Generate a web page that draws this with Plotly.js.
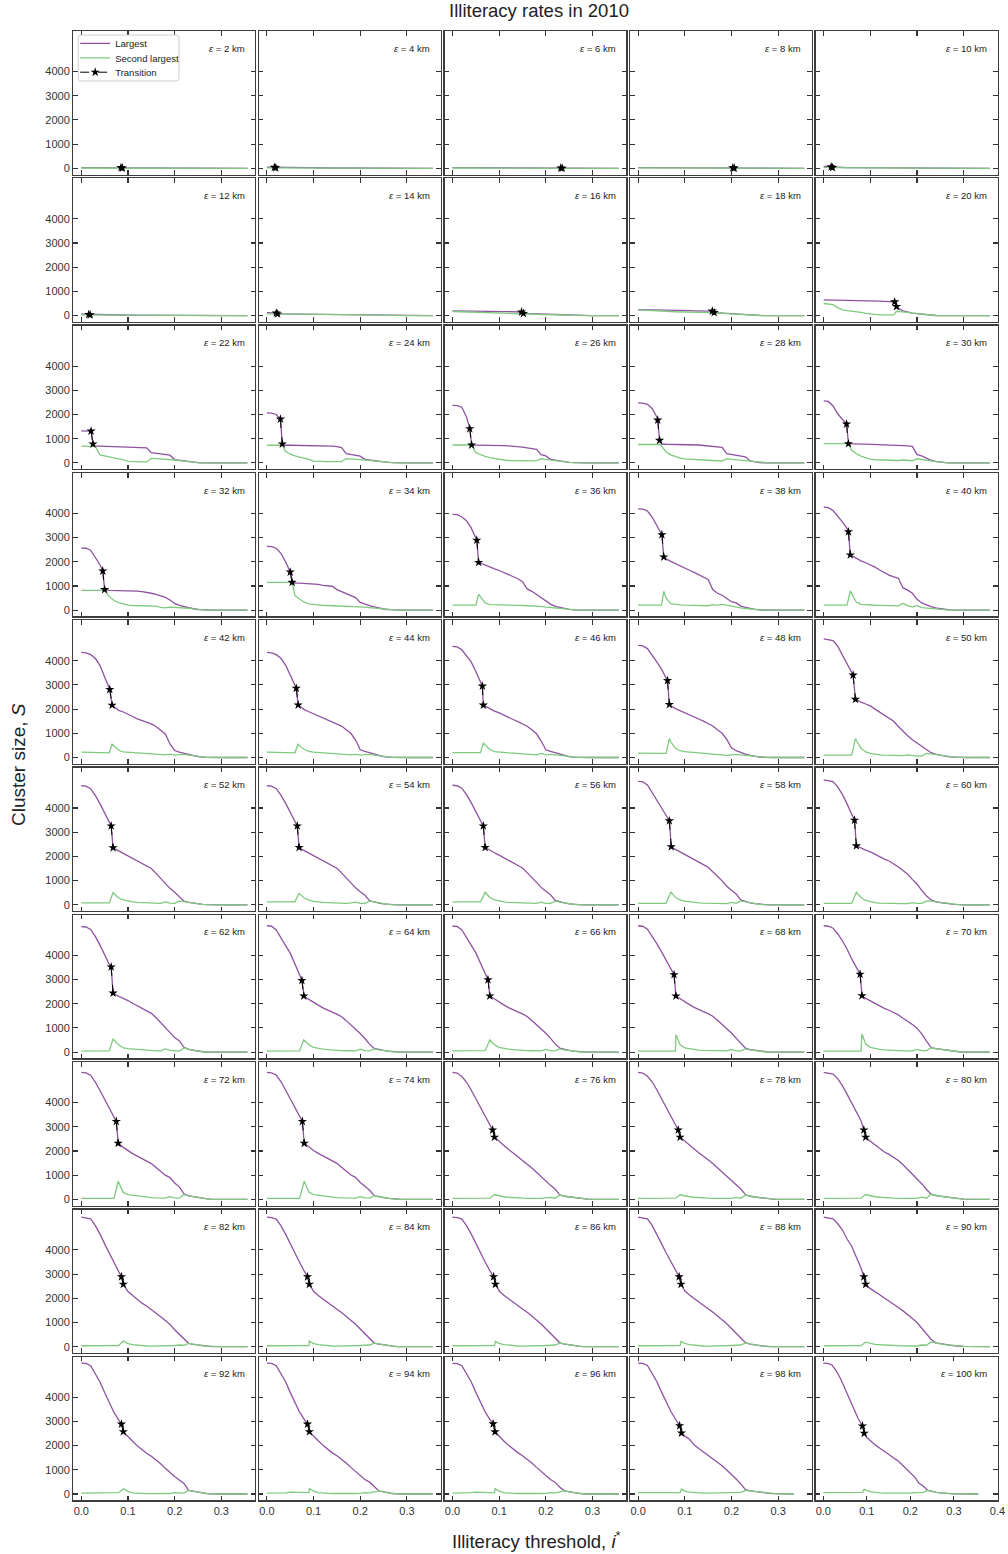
<!DOCTYPE html>
<html><head><meta charset="utf-8">
<script src="https://cdn.plot.ly/plotly-3.0.1.min.js"></script>
<style>html,body{margin:0;padding:0;background:#fff}#chart{width:1008px;height:1554px}</style>
</head><body><div id="chart"></div>
<script>
const epsKm = [2,4,6,8,10,12,14,16,18,20,22,24,26,28,30,32,34,36,38,40,42,44,46,48,50,52,54,56,58,60,62,64,66,68,70,72,74,76,78,80,82,84,86,88,90,92,94,96,98,100];
const xGrid = [0,0.01,0.02,0.03,0.04,0.05,0.06,0.07,0.08,0.09,0.10,0.11,0.12,0.13,0.14,0.15,0.16,0.17,0.18,0.19,0.20,0.21,0.22,0.23,0.24,0.25,0.26,0.27,0.28,0.29,0.30];
const xTicks = [0,0.1,0.2,0.3,0.4];
const yTicks = [0,1000,2000,3000,4000];

const largest = [
[30,30,30,30,30,30,30,30,29,12,12,11,11,10,10,9,9,8,8,7,6,5,4,3,2,1,0,0,0,0,0],
[45,42,18,18,17,17,16,16,15,15,14,14,13,13,12,12,11,10,9,8,7,6,5,4,3,2,1,0,0,0,0],
[25,25,25,24,24,23,23,22,22,21,21,20,20,19,19,18,18,17,17,16,16,15,15,15,5,4,3,2,1,0,0],
[30,30,29,29,28,28,27,27,26,26,25,25,24,24,23,22,21,20,19,19,18,8,7,6,5,4,3,2,1,0,0],
[75,65,30,30,29,29,28,28,27,27,26,26,25,25,24,24,23,22,21,20,19,18,16,14,12,10,8,6,4,2,1],
[60,55,30,30,29,28,27,26,25,24,23,22,21,20,19,18,17,16,15,14,12,10,8,6,4,2,1,0,0,0,0],
[125,120,110,68,66,64,62,60,58,56,54,52,50,48,46,44,42,40,36,32,28,24,20,15,10,6,3,0,0,0,0],
[195,195,190,185,180,178,176,174,172,170,168,165,162,158,154,120,85,75,65,55,45,35,25,15,10,5,0,0,0,0,0],
[250,248,245,240,235,228,222,218,214,210,206,202,198,195,192,190,120,115,100,85,70,55,42,30,20,10,5,0,0,0,0],
[650,648,645,640,635,630,625,620,615,610,605,600,595,590,580,575,300,200,140,105,80,55,30,15,5,0,0,0,0,0,0],
[1320,1320,1320,690,690,685,685,680,680,675,670,665,655,645,625,420,400,380,360,320,140,110,80,50,25,10,5,0,0,0,0],
[2070,2060,2000,1800,730,730,728,726,724,722,720,718,715,705,690,670,630,380,350,320,280,140,110,80,55,35,20,8,0,0,0],
[2380,2370,2300,1900,1000,735,735,730,730,725,720,710,700,690,670,650,620,590,560,340,290,150,110,80,50,25,10,0,0,0,0],
[2480,2470,2420,2250,1900,780,770,770,765,765,760,755,750,740,720,700,680,660,640,380,350,320,290,250,80,40,15,5,0,0,0],
[2560,2540,2350,2030,1800,1000,785,785,780,780,775,770,765,760,755,745,730,715,700,680,340,290,200,110,60,25,10,0,0,0,0],
[2565,2560,2480,2180,1880,1000,823,820,815,810,805,796,785,765,741,700,650,600,530,420,280,200,150,95,60,30,10,0,0,0,0],
[2634,2630,2560,2350,2000,1580,1125,1120,1110,1100,1085,1065,1030,1010,990,850,760,680,600,520,320,240,190,140,80,50,20,5,0,0,0],
[3960,3950,3850,3700,3400,3000,1940,1860,1780,1710,1640,1560,1480,1400,1300,1180,880,780,650,500,370,250,160,110,60,30,10,0,0,0,0],
[4190,4180,4100,3850,3500,3200,2120,2020,1920,1830,1740,1650,1560,1470,1370,1270,850,700,620,480,350,300,170,120,70,35,10,0,0,0,0],
[4260,4240,4120,3900,3650,3380,2250,2140,2040,1960,1880,1780,1660,1550,1450,1380,1320,920,830,700,450,300,210,150,100,60,30,10,0,0,0],
[4340,4320,4250,4100,3800,3350,2870,2100,1950,1880,1800,1694,1600,1540,1460,1390,1280,1120,970,560,290,220,170,120,70,35,15,5,0,0,0],
[4340,4320,4250,4100,3820,3400,2960,2120,1980,1890,1810,1710,1620,1550,1470,1400,1300,1150,1000,720,320,250,190,130,80,40,15,5,0,0,0],
[4590,4570,4450,4200,3950,3550,3100,2120,2000,1920,1840,1740,1650,1570,1480,1400,1290,1150,980,680,320,250,190,130,80,40,15,5,0,0,0],
[4630,4610,4500,4250,3950,3650,3300,2140,2020,1940,1860,1760,1670,1590,1500,1410,1300,1150,1000,750,400,280,200,140,85,45,20,5,0,0,0],
[4900,4880,4830,4600,4250,3870,3520,2380,2290,2210,2130,2000,1880,1760,1650,1500,1280,1080,900,730,600,480,330,200,140,90,55,30,15,5,0],
[4920,4900,4800,4520,4180,3800,3420,2330,2230,2130,2030,1930,1820,1710,1610,1500,1300,1080,900,680,520,320,150,100,65,35,15,5,0,0,0],
[4920,4900,4800,4530,4200,3820,3450,2340,2240,2140,2040,1940,1830,1720,1620,1510,1320,1100,920,700,540,400,170,110,70,40,15,5,0,0,0],
[4940,4920,4820,4550,4220,3850,3480,2370,2250,2150,2050,1950,1840,1730,1630,1520,1330,1120,940,720,560,420,180,120,75,40,15,5,0,0,0],
[5100,5080,4950,4650,4330,4000,3700,2400,2290,2190,2090,1990,1880,1770,1660,1550,1380,1180,990,770,600,450,200,130,80,45,20,5,0,0,0],
[5160,5140,5090,4870,4560,4170,3770,2435,2340,2260,2190,2080,1990,1890,1810,1700,1560,1420,1260,1050,860,600,370,200,130,95,65,40,20,10,0],
[5190,5170,5070,4780,4420,4000,3620,2400,2320,2230,2130,2020,1910,1810,1710,1600,1430,1220,1020,800,600,470,200,110,70,40,15,5,0,0,0],
[5220,5200,5050,4750,4400,4090,3680,3200,2300,2180,2050,1940,1830,1730,1650,1570,1460,1300,1130,960,770,560,330,150,100,70,40,20,5,0,0],
[5210,5190,5050,4760,4420,4100,3700,3250,2320,2190,2060,1950,1840,1740,1660,1580,1470,1310,1140,970,780,570,340,160,100,70,40,20,5,0,0],
[5220,5200,5080,4800,4480,4150,3800,3450,2320,2200,2070,1960,1850,1750,1670,1590,1480,1320,1150,980,790,580,350,160,100,70,40,20,5,0,0],
[5220,5200,5120,4890,4600,4260,3850,3480,2330,2220,2120,2010,1910,1810,1730,1650,1540,1400,1280,1140,990,750,460,190,140,110,90,60,35,15,0],
[5250,5230,5130,4850,4500,4130,3760,3380,2300,2150,2010,1890,1790,1690,1590,1480,1320,1140,1000,900,680,520,230,150,110,75,45,20,5,0,0],
[5250,5230,5140,4870,4520,4150,3780,3400,2320,2160,2020,1900,1800,1700,1600,1490,1330,1150,1010,910,700,540,380,160,110,75,45,20,5,0,0],
[5250,5220,5080,4850,4520,4150,3780,3420,3100,2570,2390,2230,2060,1920,1770,1630,1470,1300,1120,930,750,580,420,190,130,100,70,45,25,10,0],
[5250,5220,5090,4860,4530,4160,3790,3430,3110,2570,2400,2240,2070,1930,1780,1640,1480,1310,1130,940,760,590,430,200,130,100,70,45,25,10,0],
[5250,5230,5180,4990,4700,4350,4000,3620,3250,2570,2400,2240,2090,1960,1860,1750,1610,1430,1240,1050,870,650,420,220,160,130,100,70,45,25,10],
[5350,5330,5280,5000,4660,4250,3850,3480,3110,2580,2280,2110,1960,1800,1680,1540,1400,1240,1080,920,700,510,350,140,100,70,40,20,5,0,0],
[5350,5330,5270,5000,4650,4250,3860,3490,3120,2580,2290,2120,1970,1820,1690,1550,1410,1250,1090,930,730,540,380,150,110,75,45,20,5,0,0],
[5350,5330,5270,5000,4660,4260,3870,3500,3140,2580,2300,2130,1980,1830,1700,1560,1420,1260,1100,940,740,550,390,160,110,75,45,20,5,0,0],
[5350,5330,5280,5010,4670,4270,3880,3510,3150,2580,2310,2140,1990,1840,1710,1570,1430,1270,1110,950,750,560,400,170,110,75,45,20,5,0,0],
[5350,5330,5280,5080,4830,4450,4150,3700,3250,2580,2400,2290,2150,2010,1890,1750,1620,1480,1340,1170,1000,760,560,310,160,120,90,65,40,20,10],
[5410,5400,5300,4980,4630,4190,3780,3370,3060,2575,2360,2180,1990,1830,1685,1560,1420,1250,1060,880,720,580,440,150,110,70,35,15,5,0,0],
[5410,5400,5300,4990,4640,4200,3790,3380,3080,2575,2380,2200,2010,1850,1700,1580,1440,1280,1100,920,760,600,490,300,130,90,50,20,5,0,0],
[5400,5390,5300,4990,4640,4200,3790,3390,3080,2570,2370,2190,2010,1850,1710,1580,1440,1280,1100,920,760,600,480,280,130,90,55,25,10,0,0],
[5410,5400,5310,5000,4650,4220,3820,3420,3100,2520,2390,2260,2030,1880,1740,1610,1470,1330,1170,990,820,620,420,180,130,100,75,50,30,15,5],
[5410,5400,5330,5080,4750,4330,3900,3480,3120,2510,2330,2160,2020,1890,1750,1640,1510,1390,1230,1060,880,700,440,320,150,100,70,45,25,10,5]
];

const second = [
[12,12,12,12,12,12,12,12,12,11,11,10,10,9,9,8,8,7,7,6,5,4,3,2,1,1,0,0,0,0,0],
[18,18,17,17,16,16,15,15,14,14,13,13,12,12,11,11,10,9,8,7,6,5,4,3,2,1,0,0,0,0,0],
[12,12,12,12,11,11,11,11,10,10,10,10,9,9,9,9,8,8,8,8,7,7,6,6,5,4,3,2,1,0,0],
[15,15,15,14,14,14,13,13,13,12,12,12,11,11,11,10,10,10,9,9,8,8,7,6,5,4,3,2,1,0,0],
[30,30,29,29,28,28,27,27,26,26,25,25,24,24,23,23,22,21,20,19,18,17,15,13,11,9,7,5,3,2,1],
[30,28,27,26,25,24,23,22,21,20,19,18,17,16,15,14,13,12,11,10,9,8,6,4,3,2,1,0,0,0,0],
[70,70,68,66,64,62,60,58,56,54,52,50,48,46,44,42,40,38,34,30,26,22,18,14,10,6,3,0,0,0,0],
[170,165,150,130,125,120,115,110,105,100,95,92,90,88,85,85,75,65,55,45,38,30,22,15,8,4,0,0,0,0,0],
[235,230,220,205,195,185,178,170,160,150,145,140,138,135,130,127,124,112,98,83,68,54,40,28,18,8,4,0,0,0,0],
[500,490,450,330,240,210,190,170,130,90,60,35,30,30,30,30,175,155,130,105,80,55,30,15,5,0,0,0,0,0,0],
[690,690,690,680,330,290,260,230,190,130,60,45,40,40,40,190,180,170,160,145,120,95,70,45,25,10,5,0,0,0,0],
[730,730,730,730,480,360,290,250,215,150,70,55,55,55,55,55,55,180,170,160,150,130,105,80,55,35,20,8,0,0,0],
[740,740,740,740,740,420,330,270,220,180,150,120,100,90,85,80,80,80,80,170,150,120,95,70,45,25,10,0,0,0,0],
[760,760,760,760,760,700,450,330,250,200,170,150,140,130,120,110,100,90,80,170,150,120,100,80,50,30,10,0,0,0,0],
[796,796,796,796,796,796,520,380,280,210,160,130,120,115,110,105,100,120,100,90,170,150,120,80,50,25,10,0,0,0,0],
[823,823,823,823,823,823,560,400,310,250,206,195,185,180,175,170,165,120,100,130,125,115,100,80,55,30,10,0,0,0,0],
[1152,1152,1152,1152,1152,1152,600,450,330,260,230,210,200,195,190,185,180,175,170,165,150,130,110,90,65,40,15,5,0,0,0],
[210,210,210,210,210,210,560,300,230,220,215,210,210,205,200,195,190,180,170,160,130,110,90,70,45,25,10,0,0,0,0],
[210,210,210,210,210,210,500,270,230,220,210,205,200,195,190,185,230,200,240,200,150,120,100,70,45,25,10,0,0,0,0],
[210,210,210,210,210,210,700,330,240,220,210,205,200,195,190,185,180,290,180,140,190,110,90,70,50,30,15,5,0,0,0],
[220,218,215,210,205,200,195,480,300,230,215,205,195,185,175,165,150,130,110,140,100,120,130,100,70,35,15,5,0,0,0],
[220,218,215,210,205,200,195,480,330,250,220,205,195,185,175,165,150,130,110,130,100,120,130,100,70,40,15,5,0,0,0],
[200,200,210,230,220,210,200,520,330,240,215,205,195,185,175,165,150,130,110,170,110,130,120,100,70,40,15,5,0,0,0],
[180,180,178,176,174,172,170,650,380,280,240,220,205,190,180,165,150,130,110,90,110,130,110,90,60,35,15,5,0,0,0],
[100,100,100,100,100,100,100,700,380,230,170,130,110,100,90,85,85,80,110,80,60,60,170,150,120,90,55,30,15,5,0],
[80,80,80,80,80,80,80,460,280,200,150,120,100,90,80,70,60,60,120,70,60,150,130,95,65,35,15,5,0,0,0],
[120,120,120,120,120,120,120,450,280,190,140,110,100,90,80,70,60,60,80,110,60,60,150,110,70,40,15,5,0,0,0],
[120,120,120,120,120,120,120,520,300,200,150,120,100,90,80,70,60,60,60,110,60,60,150,110,70,40,15,5,0,0,0],
[60,60,60,60,60,60,60,520,300,200,150,120,100,80,70,60,50,50,50,50,100,60,160,120,80,45,20,5,0,0,0],
[60,60,60,60,60,60,60,520,300,180,120,90,70,60,55,50,50,50,50,90,60,60,150,160,120,95,65,40,20,10,0],
[40,40,45,45,50,50,50,500,300,170,140,120,100,80,70,60,50,50,130,70,40,40,170,110,70,40,15,5,0,0,0],
[40,40,40,45,45,50,50,50,480,300,200,150,120,100,80,70,60,55,50,50,120,60,50,130,90,60,35,15,5,0,0],
[50,50,50,50,55,55,60,60,500,300,200,150,120,100,80,70,60,55,50,50,110,60,50,130,90,60,35,15,5,0,0],
[40,40,40,40,40,40,40,40,40,300,170,130,100,80,70,60,55,50,50,50,110,50,50,130,90,60,35,15,5,0,0],
[40,40,40,40,40,40,40,40,40,330,200,140,110,90,75,65,55,50,50,50,110,60,60,170,140,110,90,60,35,15,0],
[40,40,40,40,40,40,40,40,700,280,200,170,140,110,90,70,60,50,50,110,60,50,200,150,110,75,45,20,5,0,0],
[40,40,40,40,40,40,40,40,750,300,200,170,140,110,90,70,60,50,50,50,110,60,50,150,110,75,45,20,5,0,0],
[40,40,40,40,45,45,50,50,50,200,140,110,90,70,60,50,45,40,40,40,60,80,50,180,130,100,70,45,25,10,0],
[40,40,40,40,45,45,50,50,50,190,140,110,90,70,60,50,45,40,40,40,40,80,50,180,130,100,70,45,25,10,0],
[40,40,40,40,45,45,50,50,50,200,140,110,90,70,60,50,45,40,40,40,40,90,50,210,160,130,100,70,45,25,10],
[40,40,40,40,40,45,50,50,50,230,130,90,60,40,30,25,25,25,30,40,50,70,60,140,100,70,40,20,5,0,0],
[40,40,40,40,40,45,50,50,50,50,130,90,60,40,30,25,25,25,30,40,50,60,70,150,110,75,45,20,5,0,0],
[40,40,40,40,40,45,50,50,50,50,140,90,60,40,30,25,25,25,30,40,50,60,70,150,110,75,45,20,5,0,0],
[40,40,40,40,40,45,50,50,50,50,140,90,60,40,30,25,25,25,30,40,50,60,70,160,110,75,45,20,5,0,0],
[40,40,40,40,40,45,50,50,50,190,130,100,80,65,55,45,40,35,30,30,30,70,60,200,150,120,90,65,40,20,10],
[40,40,45,45,50,55,60,60,55,220,110,50,30,20,15,15,15,15,15,20,60,50,40,150,110,70,35,15,5,0,0],
[40,40,40,45,50,80,80,60,50,55,120,60,35,25,20,15,15,15,15,20,25,60,50,80,130,90,50,20,5,0,0],
[40,40,40,45,60,80,80,60,50,50,120,60,35,25,20,15,15,15,15,20,30,60,50,90,130,90,55,25,10,0,0],
[60,60,60,60,60,60,60,60,60,60,120,80,60,45,40,35,35,35,40,45,50,60,65,150,130,100,75,50,30,15,5],
[60,60,60,60,60,60,60,60,65,65,140,90,60,45,40,35,35,35,35,40,40,60,60,70,150,100,70,45,25,10,5]
];

const transX = [
[0.085,0.088],[0.016,0.019],[0.232,0.235],[0.203,0.206],[0.016,0.019],
[0.016,0.019],[0.020,0.023],[0.148,0.152],[0.159,0.163],[0.152,0.156],
[0.021,0.025],[0.029,0.033],[0.037,0.041],[0.042,0.046],[0.049,0.053],
[0.046,0.050],[0.050,0.054],[0.052,0.056],[0.051,0.055],[0.053,0.057],
[0.061,0.066],[0.063,0.067],[0.064,0.066],[0.063,0.067],[0.063,0.068],
[0.064,0.068],[0.065,0.069],[0.066,0.070],[0.067,0.071],[0.066,0.070],
[0.064,0.068],[0.075,0.079],[0.076,0.080],[0.077,0.081],[0.078,0.082],
[0.075,0.079],[0.076,0.080],[0.086,0.090],[0.086,0.090],[0.086,0.090],
[0.086,0.090],[0.087,0.091],[0.088,0.092],[0.088,0.092],[0.086,0.090],
[0.086,0.090],[0.087,0.091],[0.087,0.091],[0.089,0.093],[0.090,0.094]
];
const transY = [
[28,12],[40,18],[15,6],[18,8],[60,30],
[50,30],[105,70],[150,90],[188,125],[570,375],
[1317,780],[1811,782],[1413,741],[1770,933],[1605,796],
[1619,850],[1577,1152],[2894,1975],[3120,2200],[3240,2285],
[2810,2163],[2860,2170],[2950,2165],[3180,2190],[3405,2405],
[3260,2360],[3260,2370],[3260,2370],[3470,2400],[3495,2435],
[3520,2440],[2960,2320],[2990,2320],[3200,2320],[3220,2330],
[3220,2320],[3220,2320],[2870,2570],[2870,2570],[2870,2570],
[2890,2580],[2890,2580],[2890,2580],[2890,2580],[2890,2580],
[2890,2575],[2890,2575],[2900,2570],[2820,2520],[2810,2510]
];
const secondAtTransition = [12,18,6,8,30,28,68,85,124,180,690,730,740,760,796,823,1152,650,780,800,550,560,590,780,780,500,480,520,520,520,550,500,500,720,750,750,750,200,190,200,230,230,220,220,190,220,220,220,210,200];
const tailX = [0.356,0.356,0.356,0.356,0.356,0.356,0.356,0.356,0.356,0.356,0.356,0.356,0.356,0.356,0.356,0.356,0.356,0.356,0.356,0.356,0.356,0.356,0.356,0.356,0.356,0.356,0.356,0.356,0.356,0.356,0.356,0.356,0.356,0.356,0.356,0.356,0.356,0.356,0.356,0.356,0.356,0.356,0.356,0.356,0.356,0.356,0.356,0.356,0.334,0.356];
const seriesNames = ['Largest','Second largest','Transition'];

const FONT = 'Liberation Sans, Arial, Helvetica, sans-serif';
const PURPLE = '#8e52a1', GREEN = '#7fca7f';
const W = 1008, H = 1554;
const LW = 1.3;
const colLeft0 = 72.7 + LW/2, colPitch = 185.6, innerW = 181.8;
const rowTop0 = 30.5 + LW/2, rowPitch = 147.3, innerH = 143.4;
const px = x => x / W, py = y => 1 - y / H;

function buildLargest(i){
  const [x1,x2] = transX[i], [y1,y2] = transY[i];
  const pts = [];
  xGrid.forEach((x,k)=>{ if (x < x1-1e-9 || x > x2+1e-9) pts.push([x, largest[i][k]]); });
  pts.push([x1,y1],[x2,y2],[tailX[i],0]);
  pts.sort((a,b)=>a[0]-b[0]);
  return pts;
}
function buildSecond(i){
  const x2 = transX[i][1];
  const pts = [];
  xGrid.forEach((x,k)=>{ if (Math.abs(x-x2) > 1e-9) pts.push([x, second[i][k]]); });
  pts.push([x2, secondAtTransition[i]],[tailX[i],0]);
  pts.sort((a,b)=>a[0]-b[0]);
  return pts;
}

// rounded legend frame
const bx0 = 78.3, bx1 = 179, by0 = 35, by1 = 81, rr = 3;
const boxPath = `M ${px(bx0+rr)},${py(by0)} L ${px(bx1-rr)},${py(by0)} Q ${px(bx1)},${py(by0)} ${px(bx1)},${py(by0+rr)} ` +
  `L ${px(bx1)},${py(by1-rr)} Q ${px(bx1)},${py(by1)} ${px(bx1-rr)},${py(by1)} L ${px(bx0+rr)},${py(by1)} ` +
  `Q ${px(bx0)},${py(by1)} ${px(bx0)},${py(by1-rr)} L ${px(bx0)},${py(by0+rr)} Q ${px(bx0)},${py(by0)} ${px(bx0+rr)},${py(by0)} Z`;

const legendBase = {xanchor:'left', yanchor:'middle', bgcolor:'rgba(0,0,0,0)', borderwidth:0,
  font:{family:FONT, size:9.5, color:'#222'}, itemwidth:30};

const data = [];
const layout = {
  width: W, height: H,
  margin: {l:0, r:0, t:0, b:0},
  paper_bgcolor: '#ffffff', plot_bgcolor: '#ffffff',
  font: {family: FONT, color: '#222'},
  showlegend: true,
  legend:  Object.assign({}, legendBase, {x: px(75.2), y: py(43.3)}),
  legend2: Object.assign({}, legendBase, {x: px(75.2), y: py(57.8)}),
  legend3: Object.assign({}, legendBase, {x: px(75.2), y: py(72.2)}),
  title: {text:'Illiteracy rates in 2010', x: px(539), xanchor:'center', xref:'paper',
    y: py(10.5), yanchor:'middle', yref:'paper', font:{family:FONT, size:18.5, color:'#222'}},
  shapes: [{type:'path', xref:'paper', yref:'paper', path: boxPath, layer:'above',
    fillcolor:'rgba(255,255,255,0.92)', line:{color:'#cfcfcf', width:1}}],
  annotations: []
};

for (let i = 0; i < epsKm.length; i++){
  const r = Math.floor(i/5), c = i % 5;
  const sfx = i === 0 ? '' : String(i+1);
  const left = colLeft0 + colPitch*c, top = rowTop0 + rowPitch*r;
  const zeroPx = (i === 49) ? 823.3 : 81.3 + colPitch*c;
  const scale = (i === 49) ? 435.2 : 466.7;
  const common = {
    ticks:'inside', ticklen:4.5, tickwidth:1.1, tickcolor:'#333',
    showline:true, mirror:'allticks', linecolor:'#3d3d3d', linewidth:LW,
    showgrid:false, zeroline:false, fixedrange:true,
    tickfont:{family:FONT, size:11, color:'#333'}
  };
  layout['xaxis'+sfx] = Object.assign({}, common, {
    domain:[px(left), px(left+innerW)],
    range: [(left - zeroPx)/scale, (left + innerW - zeroPx)/scale],
    anchor:'y'+sfx, tickmode:'array', tickvals:xTicks, tickformat:'.1f',
    showticklabels: r === 9
  });
  layout['yaxis'+sfx] = Object.assign({}, common, {
    domain:[py(top+innerH), py(top)],
    range:[-258, 5667],
    anchor:'x'+sfx, tickmode:'array', tickvals:yTicks,
    showticklabels: c === 0
  });

  const L = buildLargest(i), S = buildSecond(i);
  data.push({type:'scatter', mode:'lines', x:L.map(p=>p[0]), y:L.map(p=>p[1]),
    xaxis:'x'+sfx, yaxis:'y'+sfx, name:seriesNames[0], showlegend: i===0, legend:'legend',
    line:{color:PURPLE, width:1.3}, hoverinfo:'skip'});
  data.push({type:'scatter', mode:'lines', x:S.map(p=>p[0]), y:S.map(p=>p[1]),
    xaxis:'x'+sfx, yaxis:'y'+sfx, name:seriesNames[1], showlegend: i===0, legend:'legend2',
    line:{color:GREEN, width:1.3}, hoverinfo:'skip'});
  data.push({type:'scatter', mode:'lines+markers', x:transX[i], y:transY[i],
    xaxis:'x'+sfx, yaxis:'y'+sfx, name:seriesNames[2], showlegend: i===0, legend:'legend3',
    line:{color:'#000', width:1, dash:'dash'},
    marker:{symbol:'star', size:7, color:'#000'}, hoverinfo:'skip'});

  layout.annotations.push({
    xref:'paper', yref:'paper', x:px(left+innerW-8.5), y:py(top+17),
    xanchor:'right', yanchor:'middle', showarrow:false,
    text:'<i>ε</i> = ' + epsKm[i] + ' km',
    font:{family:FONT, size:9.5, color:'#222'}
  });
}

layout.annotations.push({
  xref:'paper', yref:'paper', x:px(536), y:py(1540), xanchor:'center', yanchor:'middle',
  showarrow:false, text:'Illiteracy threshold, <i>i</i><sup>*</sup>',
  font:{family:FONT, size:18.5, color:'#222'}
});
layout.annotations.push({
  xref:'paper', yref:'paper', x:px(18), y:py(765), xanchor:'center', yanchor:'middle',
  showarrow:false, textangle:-90, text:'Cluster size, <i>S</i>',
  font:{family:FONT, size:19, color:'#222'}
});

Plotly.newPlot('chart', data, layout, {displayModeBar:false, staticPlot:true});
</script>
</body></html>
